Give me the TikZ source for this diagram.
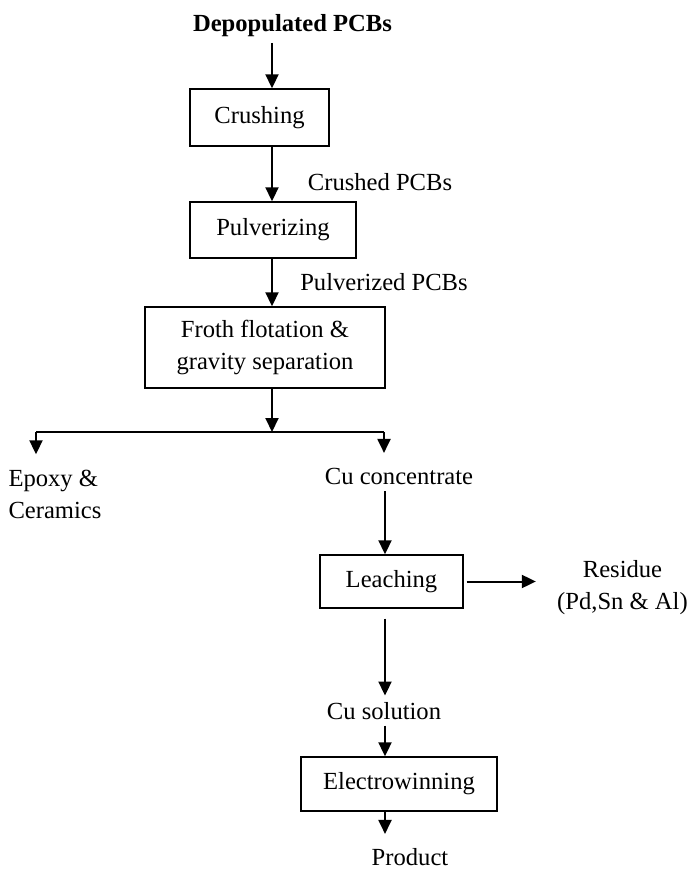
\documentclass[tikz,border=0pt]{standalone}
\usepackage{fontspec}
\setmainfont{Liberation Serif}
\usetikzlibrary{positioning,arrows.meta}

\begin{document}
\begin{tikzpicture}[x=0.5pt, y=-0.5pt,
	>={Triangle[width=6.5pt,length=7pt]},
	every node/.style={font=\fontsize{12.3}{16}\selectfont},
	box/.style={draw, line width=0.7pt, inner sep=0pt, align=center},
	lbl/.style={inner sep=3pt, align=center},
	flow/.style={->, line width=1pt}]
	\useasboundingbox (0,0) rectangle (691,870);
	\coordinate (main) at (272,0);
	\coordinate (col) at (385,0);
	% main line
	\node[lbl, font=\fontsize{12.3}{16}\selectfont\bfseries] (pcb) at (292.5,25.25) {Depopulated PCBs};
	\node[box, minimum width=69.5pt, minimum height=28.5pt] (crush) at (259.5,117.5) {Crushing};
	\node[lbl] (crushed) at (380,181.6) {Crushed PCBs};
	\node[box, minimum width=83pt, minimum height=28pt] (pulv) at (273,230) {Pulverizing};
	\node[lbl] (pulvd) at (384,281.6) {Pulverized PCBs};
	\node[box, minimum width=120pt, minimum height=40.5pt] (froth) at (265,347.5) {Froth flotation \&\\gravity separation};
	\coordinate (split) at (272,432);
	\coordinate (splitl) at (36,432);
	\coordinate (splitr) at (384,432);
	\node[lbl, align=left] (epoxy) at (55,494) {Epoxy \&\\Ceramics};
	\node[lbl] (cucon) at (399,476.6) {Cu concentrate};
	% copper line
	\node[box, minimum width=71.5pt, minimum height=26.5pt] (leach) at (391.5,581.5) {Leaching};
	\node[lbl] (res) at (622.5,588) {Residue\\(Pd,Sn \& Al)};
	\node[lbl] (cusol) at (384,710.6) {Cu solution};
	\node[box, minimum width=98pt, minimum height=27pt] (elec) at (399,784) {Electrowinning};
	\node[lbl, inner sep=1pt] (prod) at (410,857) {Product};
	\draw[flow] (pcb.south -| main) -- (crush.north -| main);
	\draw[flow] (crush.south -| main) -- (pulv.north -| main);
	\draw[flow] (pulv.south -| main) -- (froth.north -| main);
	\draw[flow] (froth.south -| main) -- (split);
	\draw[line width=1pt] (splitl) -- (splitr);
	\draw[flow, shorten >=4.5pt] (splitl) -- (splitl |- epoxy.north);
	\draw[flow, shorten >=4.5pt] (splitr) -- (splitr |- cucon.north);
	\draw[flow] (cucon.south -| col) -- (leach.north -| col);
	\draw[flow, shorten <=1.5pt, shorten >=7.5pt] (leach.east) -- (leach.east -| res.west);
	\draw[flow, shorten <=5pt] (leach.south -| col) -- (cusol.north -| col);
	\draw[flow] (cusol.south -| col) -- (elec.north -| col);
	\draw[flow, shorten >=6pt] (elec.south -| col) -- (prod.north -| col);
\end{tikzpicture}
\end{document}
